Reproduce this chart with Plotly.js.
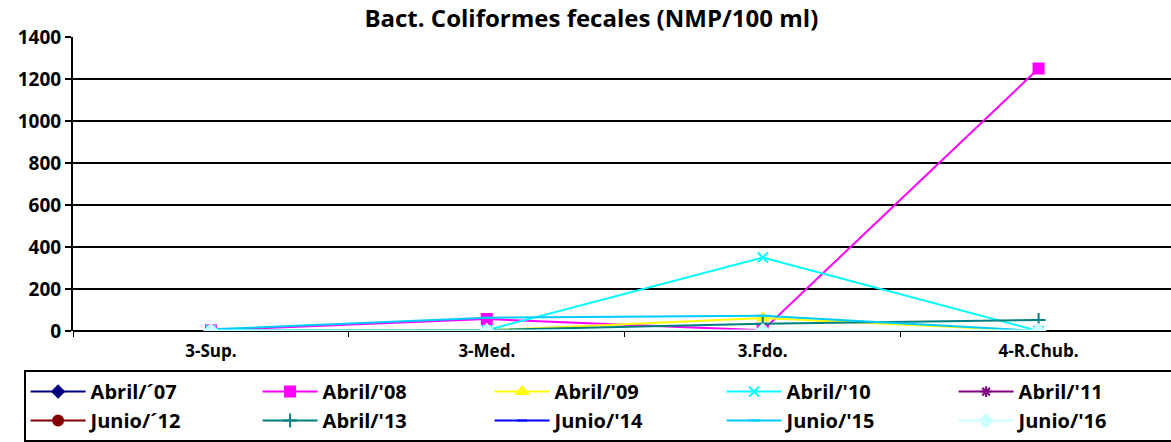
<!DOCTYPE html>
<html><head><meta charset="utf-8">
<script src="https://cdn.plot.ly/plotly-3.0.1.min.js"></script>
<style>body{margin:0;background:#fff}#chart{width:1171px;height:442px}</style>
</head><body><div id="chart"></div>
<script>
const categories = ['3-Sup.', '3-Med.', '3.Fdo.', '4-R.Chub.'];
const seriesNames = ["Abril/´07", "Abril/'08", "Abril/'09", "Abril/'10", "Abril/'11",
                     "Junio/´12", "Abril/'13", "Junio/'14", "Junio/'15", "Junio/'16"];
const abril07 = [0, 0, 0, 0];
const abril08 = [4, 57, 3, 1250];
const abril09 = [0, 3, 62, 0];
const abril10 = [5, 4, 350, 0];
const abril11 = [0, 0, 0, 0];
const junio12 = [0, 0, 0, 0];
const abril13 = [0, 5, 35, 52];
const junio14 = [0, 0, 0, 0];
const junio15 = [8, 63, 73, 0];
const junio16 = [2, 2, 2, 2];
const seriesValues = [abril07, abril08, abril09, abril10, abril11, junio12, abril13, junio14, junio15, junio16];

const colors = ['#000080', '#FF00FF', '#FFFF00', '#00FFFF', '#800080', '#800000', '#008080', '#0000FF', '#00CCFF', '#CCFFFF'];
const symbols = ['diamond', 'square', 'triangle-up', 'x-thin-open', 'asterisk-open', 'circle', 'cross-thin-open', 'line-ew-open', 'line-ew-open', 'diamond'];
const sizes = [9, 10, 10, 10, 9, 10, 10, 7, 9, 10];

const traces = seriesValues.map((v, i) => ({
  type: 'scatter', mode: 'lines+markers', name: seriesNames[i],
  x: categories, y: v,
  line: {color: colors[i], width: 2},
  marker: {color: colors[i], symbol: symbols[i], size: sizes[i], line: {color: colors[i], width: 2}}
}));

const layout = {
  width: 1171, height: 442,
  margin: {l: 73, r: 0, t: 37, b: 111, autoexpand: false},
  paper_bgcolor: '#fff', plot_bgcolor: '#fff',
  font: {family: 'Open Sans, Liberation Sans, sans-serif', color: '#000'},
  title: {text: '<b>Bact. Coliformes fecales (NMP/100 ml)</b>', x: 0.505, xanchor: 'center', y: 0.958, yanchor: 'middle',
          font: {size: 24, color: '#000'}},
  showlegend: true,
  xaxis: {
    type: 'category', range: [-0.5, 3.48], showgrid: false, zeroline: false,
    showline: false, ticks: 'outside', tickson: 'boundaries', ticklen: 5, tickcolor: '#000', tickwidth: 1,
    ticklabelstandoff: 8,
    tickfont: {size: 17, family: 'Open Sans, sans-serif', color: '#000', weight: 'bold'}
  },
  yaxis: {
    range: [0, 1400], dtick: 200, showgrid: true, gridcolor: '#000', gridwidth: 2,
    zeroline: true, zerolinecolor: '#000', zerolinewidth: 2,
    showline: true, linecolor: '#000', linewidth: 2, ticks: 'outside', ticklen: 6, tickcolor: '#000', tickwidth: 2,
    tickfont: {size: 19, family: 'Open Sans, sans-serif', color: '#000', weight: 'bold'}
  },
  legend: {
    orientation: 'h', x: -0.045, xanchor: 'left', y: -0.133, yanchor: 'top',
    bordercolor: '#000', borderwidth: 2, bgcolor: '#fff',
    entrywidth: 162, entrywidthmode: 'pixels', itemwidth: 55,
    font: {size: 20, family: 'Open Sans, sans-serif', color: '#000', weight: 'bold'},
    tracegroupgap: 0, traceorder: 'normal'
  }
};
Plotly.newPlot('chart', traces, layout, {displayModeBar: false, staticPlot: true});
</script></body></html>
